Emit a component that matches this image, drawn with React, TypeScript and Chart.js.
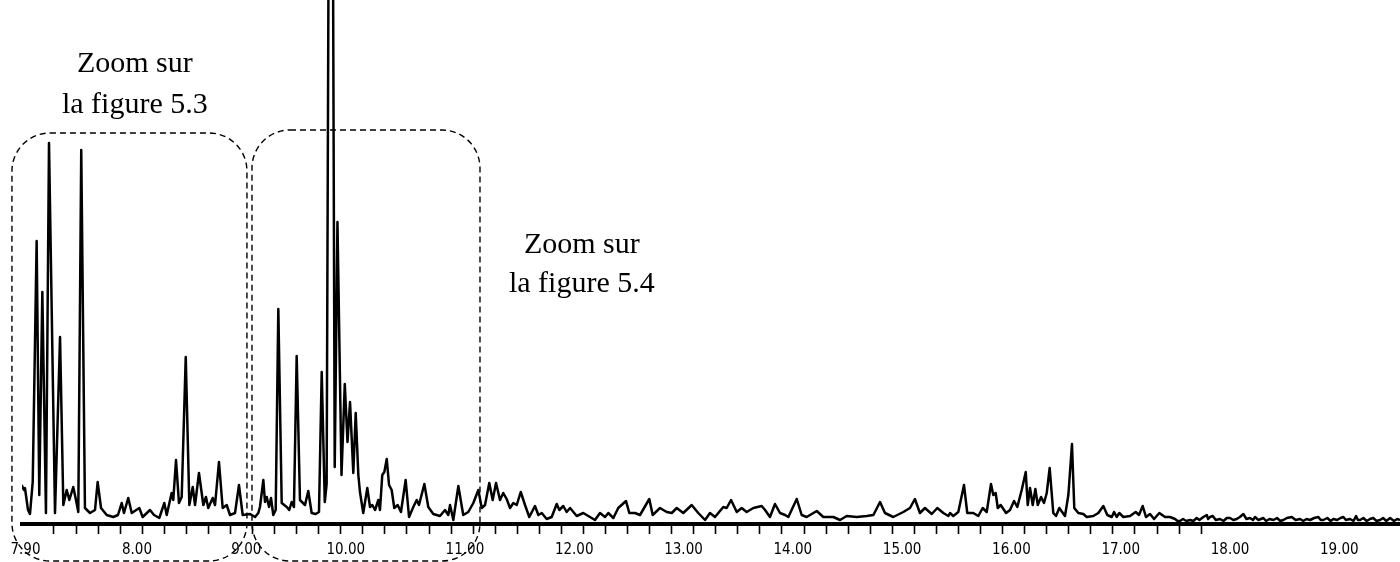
import React, { useEffect, useRef } from 'react';
import { Chart, registerables } from 'chart.js';

Chart.register(...registerables);

// Retention time (min) of each sampled point of the trace
const times = [
  6.945, 6.966, 6.975, 7.003, 7.021, 7.046, 7.082, 7.106, 7.134, 7.167, 7.195, 7.25, 7.296, 7.326, 7.357, 7.381,
  7.417, 7.442, 7.463, 7.49, 7.524, 7.57, 7.616, 7.64, 7.671, 7.723, 7.783, 7.826, 7.86, 7.881, 7.92, 7.952,
  8.021, 8.052, 8.119, 8.156, 8.204, 8.25, 8.272, 8.317, 8.332, 8.357, 8.384, 8.409, 8.446, 8.479, 8.51, 8.531,
  8.567, 8.607, 8.631, 8.652, 8.693, 8.714, 8.75, 8.784, 8.821, 8.851, 8.897, 8.933, 8.967, 9.034, 9.08, 9.11,
  9.125, 9.156, 9.171, 9.187, 9.208, 9.226, 9.247, 9.269, 9.293, 9.324, 9.37, 9.393, 9.415, 9.436, 9.461, 9.491,
  9.537, 9.567, 9.598, 9.635, 9.665, 9.69, 9.718, 9.735, 9.755, 9.773, 9.791, 9.809, 9.834, 9.871, 9.901, 9.926,
  9.949, 9.979, 10.001, 10.025, 10.04, 10.07, 10.107, 10.132, 10.153, 10.178, 10.208, 10.223, 10.244, 10.263, 10.285, 10.306,
  10.33, 10.354, 10.385, 10.415, 10.458, 10.489, 10.528, 10.559, 10.58, 10.629, 10.665, 10.711, 10.772, 10.818, 10.848, 10.864,
  10.894, 10.94, 10.985, 11.031, 11.077, 11.123, 11.154, 11.184, 11.223, 11.254, 11.285, 11.321, 11.351, 11.382, 11.413, 11.443,
  11.474, 11.511, 11.55, 11.589, 11.641, 11.672, 11.703, 11.748, 11.794, 11.84, 11.864, 11.9, 11.931, 11.962, 12.023, 12.083,
  12.129, 12.19, 12.236, 12.282, 12.312, 12.358, 12.403, 12.474, 12.504, 12.556, 12.602, 12.687, 12.718, 12.785, 12.846, 12.892,
  12.938, 12.998, 13.075, 13.135, 13.197, 13.242, 13.288, 13.364, 13.395, 13.435, 13.487, 13.532, 13.578, 13.639, 13.715, 13.746,
  13.791, 13.837, 13.883, 13.929, 13.959, 14.036, 14.081, 14.127, 14.219, 14.279, 14.371, 14.432, 14.493, 14.585, 14.676, 14.737,
  14.798, 14.843, 14.919, 15.011, 15.072, 15.117, 15.163, 15.209, 15.271, 15.322, 15.377, 15.423, 15.438, 15.468, 15.514, 15.566,
  15.596, 15.651, 15.697, 15.737, 15.774, 15.813, 15.834, 15.856, 15.875, 15.902, 15.951, 15.987, 16.024, 16.054, 16.094, 16.131,
  16.149, 16.17, 16.195, 16.219, 16.241, 16.271, 16.298, 16.323, 16.35, 16.383, 16.408, 16.438, 16.49, 16.521, 16.554, 16.575,
  16.612, 16.658, 16.689, 16.749, 16.795, 16.841, 16.877, 16.918, 16.939, 16.963, 16.987, 17.024, 17.085, 17.137, 17.167, 17.201,
  17.231, 17.268, 17.305, 17.353, 17.405, 17.451,
  17.497, 17.52, 17.542, 17.57, 17.6, 17.634, 17.665, 17.695, 17.72, 17.756, 17.787, 17.8, 17.817, 17.842, 17.87, 17.908,
  17.94, 17.97, 18.0, 18.03, 18.061, 18.09, 18.122, 18.15, 18.183, 18.21, 18.229, 18.26, 18.305, 18.33, 18.36, 18.397,
  18.43, 18.46, 18.488, 18.52, 18.565, 18.6, 18.641, 18.67, 18.7, 18.732, 18.77, 18.808, 18.83, 18.854, 18.89, 18.92,
  18.946, 18.98, 19.01, 19.037, 19.06, 19.098, 19.13, 19.153, 19.17, 19.19, 19.22, 19.25, 19.281, 19.31, 19.34, 19.373,
  19.4, 19.43, 19.464, 19.5, 19.53, 19.555,
];

// Detector response (arbitrary units) at each time above
const intensities = [
  39, 34, 36, 14, 10, 42, 283, 29, 232, 11, 381, 11, 187, 19, 34, 24,
  37, 24, 12, 374, 16, 11, 14, 42, 16, 9, 7, 9, 21, 11, 26, 11,
  16, 7, 14, 9, 6, 21, 9, 31, 24, 64, 21, 27, 167, 19, 37, 19,
  51, 19, 27, 16, 26, 19, 62, 16, 19, 9, 11, 39, 9, 10, 7, 11,
  17, 44, 22, 27, 17, 26, 9, 14, 215, 21, 17, 14, 22, 17, 168, 24,
  19, 33, 11, 10, 12, 152, 22, 40, 640, 640, 640, 57, 302, 49, 140, 82,
  122, 51, 111, 49, 32, 11, 36, 17, 19, 14, 24, 14, 49, 52, 65, 39,
  34, 16, 19, 12, 44, 7, 17, 24, 19, 40, 17, 10, 8, 14, 9, 19,
  4, 38, 9, 12, 21, 34, 16, 19, 41, 24, 41, 24, 31, 25, 16, 21,
  19, 32, 19, 7, 18, 9, 11, 5, 7, 20, 14, 18, 12, 16, 8, 11,
  8, 4, 11, 7, 11, 6, 16, 23, 11, 11, 9, 25, 9, 16, 12, 11,
  16, 11, 19, 11, 4, 11, 7, 17, 16, 24, 12, 16, 12, 16, 18, 14,
  7, 20, 11, 9, 7, 25, 9, 7, 13, 7, 7, 4, 8, 7, 8, 9,
  22, 11, 7, 12, 16, 25, 11, 16, 10, 16, 11, 8, 11, 8, 12, 39,
  11, 11, 8, 16, 12, 40, 29, 31, 16, 19, 11, 14, 23, 17, 34, 52,
  19, 36, 19, 35, 19, 27, 21, 31, 56, 11, 8, 16, 8, 29, 80, 16,
  11, 10, 7, 8, 11, 18, 9, 7, 12, 7, 11, 7, 8, 12, 9, 18,
  7, 10, 5, 11, 7, 7,
  5, 3, 3, 5, 3, 4, 3, 6, 4, 7, 9, 5, 7, 8, 4, 5,
  3, 6, 6, 4, 5, 7, 10, 5, 6, 4, 7, 4, 6, 3, 5, 4,
  6, 3, 4, 6, 7, 4, 5, 3, 5, 4, 6, 7, 4, 4, 6, 3,
  5, 4, 6, 7, 4, 5, 3, 8, 4, 4, 6, 3, 5, 6, 3, 4,
  6, 3, 6, 3, 5, 4,
];

// Axis labels as printed, and where they sit on the time axis
const labelTickValues = [6.98, 8, 9, 9.91, 11, 12, 13, 14, 15, 16, 17, 18, 19];
const labelTickTexts = ['7.90', '8.00', '9.00', '10.00', '11.00', '12.00', '13.00', '14.00', '15.00', '16.00', '17.00', '18.00', '19.00'];

// Tick marks on the axis line
const minorTickStart = 7.2406;
const minorTickStep = 0.20183;
const minorTickEnd = 17.76;

const xMin = 6.948;
const xMax = 19.555;
const yMax = 524;

// Dashed "zoom" frames (time range, response range)
const zoomBoxes = [
  { xFrom: 6.856, xTo: 9.006, yFrom: -37, yTo: 391 },
  { xFrom: 9.052, xTo: 11.138, yFrom: -37, yTo: 394 },
];
const zoomNotes = [
  { x: 7.98, lines: ['Zoom sur', 'la figure 5.3'], baselines: [452, 411] },
  { x: 12.07, lines: ['Zoom sur', 'la figure 5.4'], baselines: [271, 232] },
];

const annotationPlugin = {
  id: 'zoomAnnotations',
  afterDraw(chart: any) {
    const ctx = chart.ctx as CanvasRenderingContext2D;
    const xs = chart.scales.x;
    const ys = chart.scales.y;
    ctx.save();
    ctx.strokeStyle = '#000';
    ctx.lineWidth = 1.4;
    ctx.setLineDash([6, 4]);
    zoomBoxes.forEach((b) => {
      const l = xs.getPixelForValue(b.xFrom);
      const r = xs.getPixelForValue(b.xTo);
      const t = ys.getPixelForValue(b.yTo);
      const btm = ys.getPixelForValue(b.yFrom);
      ctx.beginPath();
      (ctx as any).roundRect(l, t, r - l, btm - t, 38);
      ctx.stroke();
    });
    ctx.setLineDash([]);
    ctx.fillStyle = '#000';
    ctx.font = '30px "Liberation Serif", "Times New Roman", serif';
    ctx.textAlign = 'center';
    ctx.textBaseline = 'alphabetic';
    zoomNotes.forEach((n) => {
      n.lines.forEach((s, i) => {
        ctx.fillText(s, xs.getPixelForValue(n.x), ys.getPixelForValue(n.baselines[i]));
      });
    });
    ctx.restore();
  },
};

export default function App() {
  const canvasRef = useRef<HTMLCanvasElement | null>(null);

  useEffect(() => {
    if (!canvasRef.current) return;
    const points = times.map((t, i) => ({ x: t, y: intensities[i] }));
    const chart = new Chart(canvasRef.current, {
      type: 'line',
      data: {
        datasets: [
          {
            data: points,
            borderColor: '#000',
            borderWidth: 2.5,
            pointRadius: 0,
            tension: 0,
            fill: false,
            borderJoinStyle: 'round',
          },
        ],
      },
      options: {
        responsive: false,
        animation: false,
        parsing: false,
        layout: { padding: { left: 22, right: 0, top: 0, bottom: 3 } },
        plugins: { legend: { display: false }, tooltip: { enabled: false } },
        scales: {
          x: {
            type: 'linear',
            position: 'bottom',
            weight: 0,
            min: xMin,
            max: xMax,
            border: { display: true, color: '#000', width: 4 },
            grid: { display: true, drawOnChartArea: false, drawTicks: true, tickLength: 10, tickColor: '#000', tickWidth: 1.6 },
            ticks: { display: false },
            afterBuildTicks: (scale: any) => {
              const t: { value: number }[] = [];
              for (let v = minorTickStart; v <= minorTickEnd; v += minorTickStep) t.push({ value: v });
              scale.ticks = t;
            },
            afterFit: (scale: any) => {
              scale.height = 10;
            },
          },
          x2: {
            type: 'linear',
            position: 'bottom',
            weight: 1,
            min: xMin,
            max: xMax,
            border: { display: false },
            grid: { display: false, drawTicks: false },
            afterBuildTicks: (scale: any) => {
              scale.ticks = labelTickValues.map((v) => ({ value: v }));
            },
            afterFit: (scale: any) => {
              scale.height = 25;
            },
            ticks: {
              autoSkip: false,
              maxRotation: 0,
              minRotation: 0,
              padding: 7,
              color: '#000',
              font: { family: '"Liberation Sans Narrow", "Arial Narrow", "DejaVu Sans Condensed", sans-serif', size: 15 },
              callback: (_v: any, i: number) => labelTickTexts[i],
            },
          },
          y: { display: false, min: 0, max: yMax },
        },
      },
      plugins: [annotationPlugin],
    } as any);
    return () => chart.destroy();
  }, []);

  return (
    <div style={{ position: 'absolute', left: 0, top: 0, width: 1400, height: 562, background: '#fff' }}>
      <canvas ref={canvasRef} width={1400} height={562} style={{ display: 'block' }} />
    </div>
  );
}
